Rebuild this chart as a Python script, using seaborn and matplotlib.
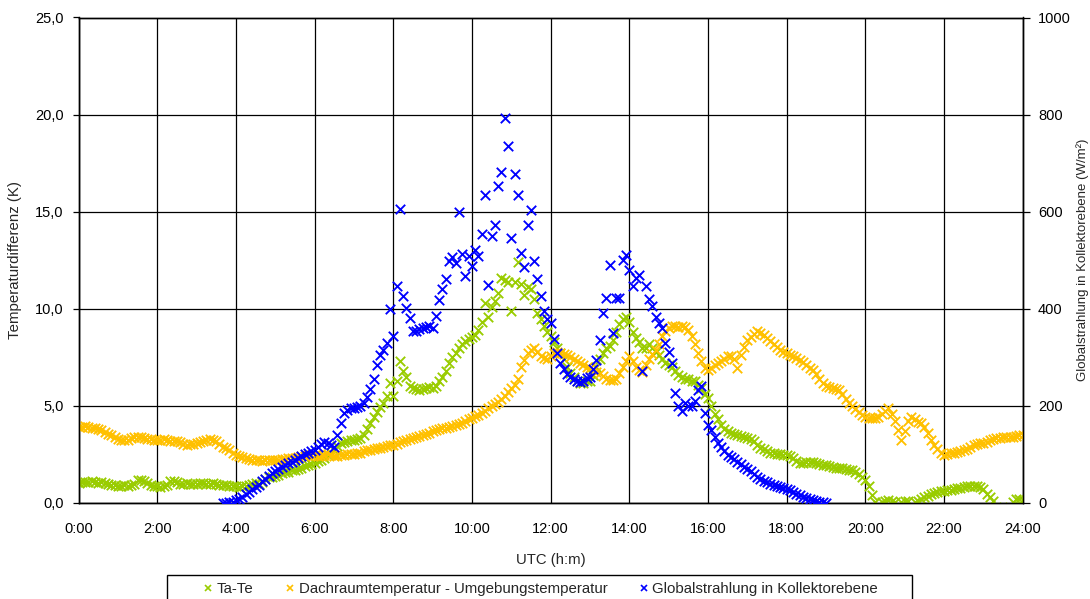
import numpy as np
import pandas as pd
import matplotlib
matplotlib.use("Agg")
import matplotlib.pyplot as plt
from matplotlib.lines import Line2D
from matplotlib.patches import Rectangle
from matplotlib.ticker import FuncFormatter, MultipleLocator
import seaborn as sns

# ---- measured series, one value every 5 minutes (UTC) ----
STEP_MIN = 5

# Ta-Te (K), 0:00 .. 24:00, rows are hours
ta_te = [
    1.05, 1.10, 1.10, 1.08, 1.12, 1.10, 1.05, 1.08, 1.02, 1.00, 0.95, 0.92,
    0.90, 0.88, 0.92, 0.90, 0.95, 1.00, 1.18, 1.20, 1.15, 1.05, 0.92, 0.88,
    0.85, 0.82, 0.88, 0.95, 1.12, 1.15, 1.10, 1.00, 0.98, 1.02, 1.00, 0.98,
    1.00, 1.05, 1.02, 0.98, 1.00, 1.02, 0.98, 0.95, 0.92, 0.95, 0.90, 0.88,
    0.85, 0.82, 0.85, 0.88, 0.92, 0.98, 1.05, 1.00, 1.10, 1.25, 1.32, 1.35,
    1.40, 1.45, 1.52, 1.58, 1.62, 1.68, 1.72, 1.75, 1.82, 1.90, 1.95, 2.00,
    2.05, 2.15, 2.20, 2.30, 2.45, 2.55, 2.75, 2.95, 3.10, 3.15, 3.20, 3.22,
    3.25, 3.30, 3.35, 3.50, 3.80, 4.10, 4.45, 4.70, 4.95, 5.15, 5.50, 6.20,
    5.50, 6.30, 7.30, 6.80, 6.50, 6.00, 5.90, 5.85, 5.80, 5.85, 5.90, 5.95,
    5.90, 6.00, 6.30, 6.50, 6.80, 7.20, 7.50, 7.70, 8.00, 8.20, 8.35, 8.45,
    8.55, 8.65, 8.90, 9.30, 10.30, 9.60, 10.10, 10.40, 10.80, 11.60, 11.50, 11.40,
    9.90, 11.40, 12.40, 11.30, 10.70, 11.10, 11.00, 10.50, 9.80, 9.50, 9.10, 8.80,
    8.60, 8.30, 8.00, 7.70, 7.40, 7.00, 6.70, 6.50, 6.30, 6.20, 6.20, 6.30,
    6.30, 6.60, 7.00, 7.40, 7.70, 8.00, 8.10, 8.40, 8.80, 9.20, 9.50, 9.60,
    9.30, 8.80, 8.50, 8.30, 8.00, 8.00, 8.20, 8.00, 7.80, 7.60, 7.40, 7.20,
    7.10, 7.00, 6.80, 6.60, 6.50, 6.40, 6.40, 6.30, 6.30, 6.10, 5.90, 5.60,
    5.40, 5.00, 4.60, 4.30, 4.00, 3.80, 3.70, 3.60, 3.55, 3.50, 3.45, 3.40,
    3.35, 3.30, 3.20, 3.00, 2.85, 2.80, 2.70, 2.60, 2.55, 2.50, 2.50, 2.48,
    2.45, 2.40, 2.30, 2.15, 2.05, 2.05, 2.10, 2.12, 2.10, 2.05, 2.00, 1.95,
    1.95, 1.90, 1.85, 1.82, 1.80, 1.78, 1.75, 1.72, 1.70, 1.60, 1.50, 1.35,
    1.20, 0.90, 0.40, 0.05, -0.10, 0.05, 0.10, 0.15, 0.10, 0.05, -0.25, 0.05,
    0.10, 0.08, -0.25, 0.05, 0.12, 0.20, 0.30, 0.35, 0.45, 0.50, 0.55, 0.60,
    0.62, 0.65, 0.68, 0.70, 0.75, 0.78, 0.80, 0.85, 0.88, 0.90, 0.88, 0.80,
    0.70, 0.45, 0.30, 0.10, -0.20, -0.40, -0.50, -0.40, -0.20, 0.05, 0.20, 0.20,
    0.15,
]

# Dachraumtemperatur - Umgebungstemperatur (K), 0:00 .. 24:00
dachraum = [
    3.90, 3.92, 3.95, 3.90, 3.88, 3.85, 3.80, 3.75, 3.65, 3.55, 3.48, 3.42,
    3.30, 3.25, 3.22, 3.25, 3.35, 3.40, 3.42, 3.40, 3.35, 3.30, 3.28, 3.25,
    3.22, 3.25, 3.28, 3.25, 3.20, 3.18, 3.20, 3.15, 3.05, 3.00, 3.02, 3.05,
    3.10, 3.12, 3.18, 3.22, 3.28, 3.25, 3.20, 3.05, 2.90, 2.85, 2.75, 2.60,
    2.48, 2.40, 2.35, 2.30, 2.25, 2.22, 2.20, 2.20, 2.18, 2.20, 2.22, 2.20,
    2.20, 2.22, 2.25, 2.28, 2.30, 2.32, 2.30, 2.35, 2.40, 2.42, 2.45, 2.48,
    2.45, 2.42, 2.40, 2.45, 2.50, 2.48, 2.42, 2.40, 2.45, 2.48, 2.50, 2.52,
    2.50, 2.55, 2.60, 2.68, 2.72, 2.75, 2.78, 2.82, 2.85, 2.90, 2.95, 2.98,
    3.00, 3.05, 3.15, 3.20, 3.25, 3.30, 3.35, 3.40, 3.45, 3.50, 3.55, 3.62,
    3.70, 3.75, 3.80, 3.85, 3.88, 3.90, 3.95, 4.00, 4.05, 4.10, 4.20, 4.30,
    4.40, 4.50, 4.55, 4.62, 4.75, 4.90, 5.00, 5.10, 5.20, 5.35, 5.50, 5.70,
    5.90, 6.10, 6.40, 7.00, 7.35, 7.70, 7.90, 8.00, 7.80, 7.55, 7.45, 7.40,
    7.55, 7.70, 7.75, 7.70, 7.68, 7.60, 7.50, 7.40, 7.30, 7.20, 7.10, 7.00,
    6.95, 6.85, 6.75, 6.70, 6.55, 6.40, 6.35, 6.35, 6.40, 6.70, 7.00, 7.30,
    7.55, 7.30, 7.00, 6.85, 6.75, 7.10, 7.40, 7.65, 7.90, 8.20, 8.60, 8.85,
    9.00, 9.10, 9.10, 9.05, 9.10, 9.05, 8.90, 8.60, 8.20, 7.70, 7.30, 6.95,
    6.85, 6.95, 7.10, 7.20, 7.30, 7.40, 7.55, 7.55, 7.40, 6.95, 7.60, 8.05,
    8.40, 8.55, 8.70, 8.84, 8.75, 8.65, 8.50, 8.35, 8.20, 8.05, 7.90, 7.75,
    7.70, 7.62, 7.55, 7.45, 7.38, 7.25, 7.10, 6.95, 6.86, 6.65, 6.40, 6.20,
    6.00, 5.95, 5.90, 5.85, 5.83, 5.60, 5.35, 5.14, 5.00, 4.85, 4.70, 4.55,
    4.45, 4.38, 4.36, 4.40, 4.45, 4.60, 4.75, 4.88, 4.60, 4.20, 3.76, 3.24,
    3.70, 4.20, 4.45, 4.30, 4.15, 4.10, 3.90, 3.60, 3.24, 3.00, 2.80, 2.60,
    2.47, 2.50, 2.55, 2.60, 2.64, 2.70, 2.75, 2.80, 2.90, 2.98, 3.03, 3.07,
    3.10, 3.15, 3.22, 3.30, 3.33, 3.35, 3.38, 3.40, 3.41, 3.42, 3.45, 3.48,
    3.50,
]

# Globalstrahlung in Kollektorebene (W/m²), 3:40 .. 19:00
strahlung_start = "3:40"
strahlung = [
    0, 0, 2, 3,
    6, 9, 13, 18, 23, 28, 33, 38, 45, 50, 56, 62,
    66, 70, 74, 78, 82, 85, 88, 92, 96, 100, 104, 108,
    110, 115, 122, 126, 124, 120, 116, 140, 165, 185, 192, 195,
    195, 198, 200, 206, 218, 235, 255, 285, 305, 316, 330, 400,
    343, 447, 605, 426, 402, 381, 354, 355, 358, 361, 362, 364,
    360, 385, 419, 440, 461, 499, 506, 495, 599, 512, 468, 509,
    488, 521, 509, 554, 635, 450, 550, 573, 652, 681, 793, 736,
    546, 678, 635, 515, 487, 573, 604, 498, 461, 426, 395, 378,
    371, 337, 309, 288, 275, 265, 260, 255, 252, 250, 252, 258,
    260, 275, 295, 336, 391, 422, 491, 350, 422, 422, 501, 511,
    480, 446, 464, 470, 271, 446, 420, 405, 384, 370, 360, 330,
    310, 288, 226, 199, 190, 206, 200, 199, 210, 233, 240, 185,
    160, 150, 135, 123, 115, 108, 99, 95, 90, 85, 80, 75,
    70, 66, 60, 54, 50, 46, 43, 40, 37, 34, 33, 30,
    28, 26, 23, 19, 16, 13, 11, 9, 6, 4, 3, 2,
    1,
]

x_ticks = ["0:00", "2:00", "4:00", "6:00", "8:00", "10:00", "12:00",
           "14:00", "16:00", "18:00", "20:00", "22:00", "24:00"]

labels = ["Ta-Te",
          "Dachraumtemperatur - Umgebungstemperatur",
          "Globalstrahlung in Kollektorebene"]
colors = ["#99CC00", "#FFC000", "#0000FF"]


def to_hours(hm):
    h, m = hm.split(":")
    return int(h) + int(m) / 60.0


t_temp = np.arange(len(ta_te)) * STEP_MIN / 60.0
temp_df = pd.DataFrame({"t": t_temp, "tate": ta_te, "dach": dachraum})
t_rad = to_hours(strahlung_start) + np.arange(len(strahlung)) * STEP_MIN / 60.0
rad_df = pd.DataFrame({"t": t_rad, "g": strahlung})

sns.set_style("white")
plt.rcParams["font.family"] = ["Liberation Sans", "DejaVu Sans"]
plt.rcParams["axes.edgecolor"] = "black"

W, H = 1090, 599
fig, ax = plt.subplots(figsize=(W / 100, H / 100), dpi=100)
fig.subplots_adjust(left=78.5 / W, right=1022.7 / W, top=1 - 17.5 / H, bottom=1 - 503 / H)
ax2 = ax.twinx()

mk = dict(marker="x", s=46, linewidth=1.35, legend=False, zorder=3)
sns.scatterplot(data=temp_df, x="t", y="tate", color=colors[0], ax=ax, **mk)
sns.scatterplot(data=temp_df, x="t", y="dach", color=colors[1], ax=ax, **mk)
sns.scatterplot(data=rad_df, x="t", y="g", color=colors[2], ax=ax2, **mk)

ax.set_xlim(0, 24)
ax.set_ylim(0, 25)
ax2.set_ylim(0, 1000)

ax.set_xticks(np.arange(0, 25, 2))
ax.set_xticklabels(x_ticks)
ax.yaxis.set_major_locator(MultipleLocator(5))
ax.yaxis.set_major_formatter(FuncFormatter(lambda v, p: f"{v:.1f}".replace(".", ",")))
ax2.yaxis.set_major_locator(MultipleLocator(200))
ax2.yaxis.set_major_formatter(FuncFormatter(lambda v, p: f"{v:.0f}"))

ax.grid(True, color="black", linewidth=0.9)
ax.set_axisbelow(True)
for a in (ax, ax2):
    for sp in a.spines.values():
        sp.set_color("black")
        sp.set_linewidth(1.0)
    a.tick_params(direction="out", width=0.9, color="black",
                  labelsize=10.5, labelcolor="black")
ax.tick_params(axis="x", length=3, pad=11)
ax.tick_params(axis="y", length=4.3, pad=6.5)
ax2.tick_params(axis="y", length=5, pad=6)

ax.set_xlabel("UTC (h:m)", fontsize=10.7, labelpad=12)
ax.set_ylabel("Temperaturdifferenz (K)", fontsize=10.8, labelpad=9)
ax2.set_ylabel("Globalstrahlung in Kollektorebene (W/m²)", fontsize=9.5, labelpad=4)

# legend entries, with the frame drawn as a separate box along the bottom edge
handles = [Line2D([], [], ls="none", marker="x", color=c, markersize=5,
                  markeredgewidth=1.2) for c in colors]
fig.legend(handles, labels, loc="center left", ncol=3,
           bbox_to_anchor=(203.5 / W, 1 - 589 / H), frameon=False,
           fontsize=10.8, handlelength=0.6, handletextpad=0.3,
           columnspacing=2.1, borderpad=0, borderaxespad=0)
box_left, box_right, box_top, box_bottom = 167, 912, 575, 605
fig.add_artist(Rectangle((box_left / W, 1 - box_bottom / H),
                         (box_right - box_left) / W, (box_bottom - box_top) / H,
                         transform=fig.transFigure, fill=False,
                         edgecolor="black", linewidth=1.0))

fig.savefig("out.png", dpi=100)
